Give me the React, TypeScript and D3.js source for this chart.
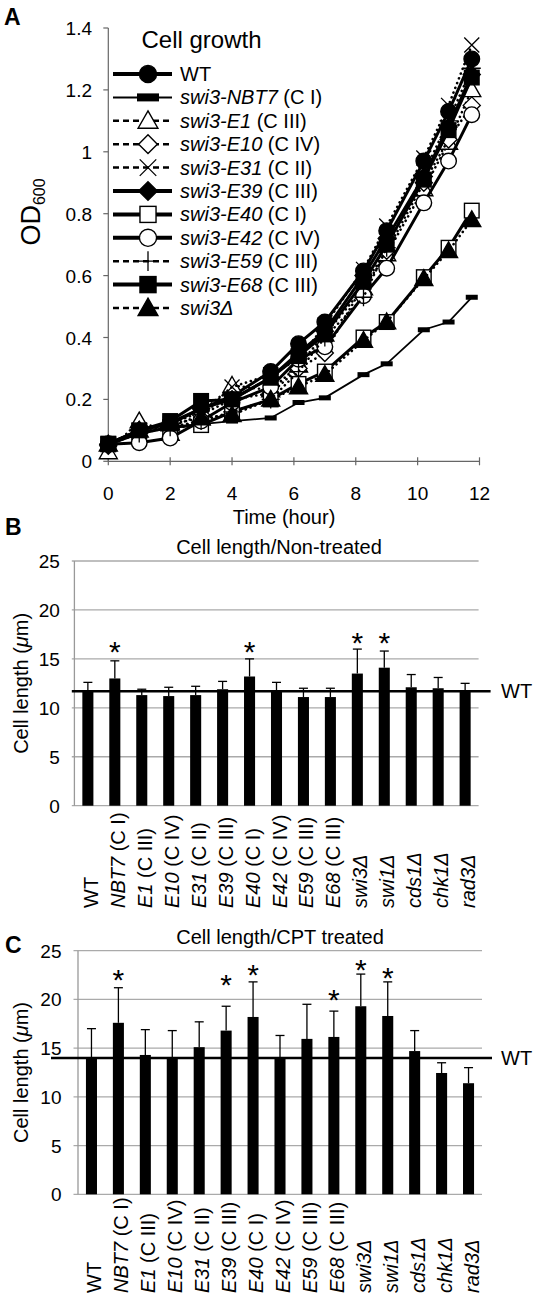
import React from 'react';
import * as d3 from 'd3';

const FONT = "'Liberation Sans', Arial, Helvetica, sans-serif";

// ---------- Panel A data ----------
const hours = [0, 1, 2, 3, 4, 5.25, 6.15, 7, 8.25, 9, 10.2, 11, 11.75];
const strainNames = ['WT', 'swi3-NBT7', 'swi3-E1', 'swi3-E10', 'swi3-E31', 'swi3-E39', 'swi3-E40', 'swi3-E42', 'swi3-E59', 'swi3-E68', 'swi3Δ'];
const strainClasses = ['', '(C I)', '(C III)', '(C IV)', '(C II)', '(C III)', '(C I)', '(C IV)', '(C III)', '(C III)', ''];
const odWT = [0.057, 0.10, 0.125, 0.17, 0.21, 0.29, 0.38, 0.45, 0.615, 0.745, 0.97, 1.13, 1.30];
const odNBT7 = [0.057, 0.09, 0.11, 0.12, 0.13, 0.14, 0.19, 0.205, 0.28, 0.315, 0.425, 0.45, 0.53];
const odE1 = [0.03, 0.13, 0.09, 0.14, 0.245, 0.23, 0.31, 0.41, 0.56, 0.67, 0.88, 1.03, 1.20];
const odE10 = [0.05, 0.10, 0.11, 0.15, 0.20, 0.22, 0.30, 0.35, 0.57, 0.68, 0.90, 1.04, 1.15];
const odE31 = [0.055, 0.10, 0.12, 0.16, 0.24, 0.28, 0.33, 0.44, 0.62, 0.76, 0.98, 1.15, 1.345];
const odE39 = [0.055, 0.10, 0.12, 0.17, 0.20, 0.27, 0.35, 0.42, 0.60, 0.72, 0.92, 1.08, 1.25];
const odE40 = [0.055, 0.09, 0.11, 0.117, 0.16, 0.20, 0.25, 0.29, 0.40, 0.45, 0.595, 0.69, 0.81];
const odE42 = [0.055, 0.06, 0.075, 0.13, 0.19, 0.24, 0.33, 0.37, 0.535, 0.624, 0.835, 0.97, 1.12];
const odE59 = [0.055, 0.09, 0.11, 0.13, 0.16, 0.20, 0.29, 0.40, 0.53, 0.69, 0.93, 1.10, 1.27];
const odE68 = [0.057, 0.10, 0.13, 0.195, 0.20, 0.27, 0.34, 0.41, 0.58, 0.70, 0.91, 1.07, 1.24];
const odSwi3 = [0.055, 0.10, 0.12, 0.14, 0.15, 0.20, 0.24, 0.28, 0.39, 0.45, 0.59, 0.68, 0.78];
const odSeries = [odWT, odNBT7, odE1, odE10, odE31, odE39, odE40, odE42, odE59, odE68, odSwi3];
const xTicksA = [0, 2, 4, 6, 8, 10, 12];
const yTicksA = [0, 0.2, 0.4, 0.6, 0.8, 1, 1.2, 1.4];

// ---------- Panels B / C data ----------
const barCats = ['WT', 'NBT7', 'E1', 'E10', 'E31', 'E39', 'E40', 'E42', 'E59', 'E68', 'swi3Δ', 'swi1Δ', 'cds1Δ', 'chk1Δ', 'rad3Δ'];
const barClasses = ['', '(C I)', '(C III)', '(C IV)', '(C II)', '(C III)', '(C I)', '(C IV)', '(C III)', '(C III)', '', '', '', '', ''];
const lenNonTreated = [11.7, 13.0, 11.3, 11.2, 11.3, 11.9, 13.2, 11.8, 11.1, 11.1, 13.5, 14.1, 12.1, 12.0, 11.7];
const sdNonTreated = [0.9, 1.8, 0.6, 0.9, 0.9, 0.8, 1.8, 0.8, 0.9, 0.9, 2.5, 1.7, 1.3, 1.1, 0.8];
const starNonTreated = [null, 16.4, null, null, null, null, 16.4, null, null, null, 17.3, 17.3, null, null, null];
const lenCPT = [14.0, 17.6, 14.3, 14.0, 15.1, 16.8, 18.2, 14.0, 15.95, 16.15, 19.3, 18.3, 14.7, 12.45, 11.4];
const sdCPT = [3.0, 3.6, 2.6, 2.8, 2.6, 2.5, 3.6, 2.3, 3.55, 2.65, 3.3, 3.5, 2.1, 1.05, 1.6];
const starCPT = [null, 22.7, null, null, null, 22.2, 23.2, null, null, 20.7, 23.7, 22.9, null, null, null];
const yTicksBar = [0, 5, 10, 15, 20, 25];

// ---------- styles ----------
type Mk = 'circle' | 'rect' | 'triangle' | 'diamond' | 'x' | 'square' | 'plus';
interface Sty { mk: Mk; fill: string; line: 'thick' | 'thin' | 'dash'; }
const styles: Sty[] = [
  { mk: 'circle', fill: '#000', line: 'thick' },
  { mk: 'rect', fill: '#000', line: 'thin' },
  { mk: 'triangle', fill: '#fff', line: 'dash' },
  { mk: 'diamond', fill: '#fff', line: 'dash' },
  { mk: 'x', fill: 'none', line: 'dash' },
  { mk: 'diamond', fill: '#000', line: 'thick' },
  { mk: 'square', fill: '#fff', line: 'thick' },
  { mk: 'circle', fill: '#fff', line: 'thick' },
  { mk: 'plus', fill: 'none', line: 'dash' },
  { mk: 'square', fill: '#000', line: 'thick' },
  { mk: 'triangle', fill: '#000', line: 'dash' },
];

function Marker({ mk, fill, cx, cy, big }: { mk: Mk; fill: string; cx: number; cy: number; big?: boolean }) {
  const s = big ? 1.1 : 1;
  const sw = 1.4;
  switch (mk) {
    case 'circle':
      return <circle cx={cx} cy={cy} r={7.8 * s} fill={fill} stroke="#000" strokeWidth={sw} />;
    case 'rect': {
      const w = big ? 22 : 12, h = big ? 8 : 5;
      return <rect x={cx - w / 2} y={cy - h / 2} width={w} height={h} fill="#000" />;
    }
    case 'triangle': {
      const r = 9 * s;
      return <polygon points={`${cx},${cy - r} ${cx + r},${cy + r * 0.75} ${cx - r},${cy + r * 0.75}`} fill={fill} stroke="#000" strokeWidth={sw} />;
    }
    case 'diamond': {
      const r = 8.5 * s;
      return <polygon points={`${cx},${cy - r} ${cx + r},${cy} ${cx},${cy + r} ${cx - r},${cy}`} fill={fill} stroke="#000" strokeWidth={sw} />;
    }
    case 'square': {
      const r = 7.3 * s;
      return <rect x={cx - r} y={cy - r} width={2 * r} height={2 * r} fill={fill} stroke="#000" strokeWidth={sw} />;
    }
    case 'x': {
      const r = 7.5 * s;
      return <path d={`M${cx - r},${cy - r}L${cx + r},${cy + r}M${cx - r},${cy + r}L${cx + r},${cy - r}`} stroke="#000" strokeWidth={1.3} fill="none" />;
    }
    case 'plus': {
      const r = 9 * s;
      return <path d={`M${cx},${cy - r}L${cx},${cy + r}M${cx - r},${cy}L${cx + r},${cy}`} stroke="#000" strokeWidth={1.3} fill="none" />;
    }
  }
  return null;
}

function lineProps(line: Sty['line'], legend: boolean) {
  if (line === 'thick') return { strokeWidth: legend ? 4 : 3, strokeDasharray: undefined as string | undefined, strokeLinecap: 'butt' as const };
  if (line === 'thin') return { strokeWidth: legend ? 2 : 1.8, strokeDasharray: undefined, strokeLinecap: 'butt' as const };
  return legend
    ? { strokeWidth: 2.5, strokeDasharray: '6,4', strokeLinecap: 'butt' as const }
    : { strokeWidth: 2.6, strokeDasharray: '0.1,5', strokeLinecap: 'round' as const };
}

function PanelA() {
  const x = d3.scaleLinear().domain([0, 12]).range([108.3, 479.5]);
  const y = d3.scaleLinear().domain([0, 1.4]).range([461.3, 28]);
  const line = d3.line<number>().x((_, i) => x(hours[i])).y((d) => y(d));
  const axisColor = '#666';
  const legendY0 = 74, legendStep = 23.4;
  return (
    <g>
      <text x={4} y={25} fontSize={23} fontWeight="bold">A</text>
      {/* axes */}
      <line x1={x(0)} x2={x(0)} y1={y(0)} y2={y(1.4)} stroke={axisColor} strokeWidth={1.2} />
      <line x1={x(0)} x2={x(12)} y1={y(0)} y2={y(0)} stroke={axisColor} strokeWidth={1.2} />
      {yTicksA.map((t) => (
        <g key={t}>
          <line x1={x(0) - 5} x2={x(0)} y1={y(t)} y2={y(t)} stroke={axisColor} strokeWidth={1.2} />
          <text x={92} y={y(t) + 7} fontSize={19} textAnchor="end">{d3.format('~g')(t)}</text>
        </g>
      ))}
      {xTicksA.map((t) => (
        <g key={t}>
          <line x1={x(t)} x2={x(t)} y1={y(0) - 4} y2={y(0) + 4} stroke={axisColor} strokeWidth={1.2} />
          <text x={x(t)} y={499.5} fontSize={19} textAnchor="middle">{t}</text>
        </g>
      ))}
      <text x={284} y={523.5} fontSize={20} textAnchor="middle">Time (hour)</text>
      <text transform="translate(40,212) rotate(-90)" fontSize={27} textAnchor="middle">
        OD<tspan fontSize={16} dy={5}>600</tspan>
      </text>
      {/* legend */}
      <text x={141.5} y={48} fontSize={24}>Cell growth</text>
      {strainNames.map((name, i) => {
        const st = styles[i];
        const ly = legendY0 + i * legendStep;
        const lp = lineProps(st.line, true);
        return (
          <g key={name}>
            <line x1={113} x2={172} y1={ly} y2={ly} stroke="#000" {...lp} />
            <Marker mk={st.mk} fill={st.fill} cx={148} cy={ly} big />
            <text x={180} y={ly + 7} fontSize={20}>
              {name === 'WT' ? <tspan>WT</tspan> : <tspan fontStyle="italic">{name}</tspan>}
              {strainClasses[i] ? <tspan> {strainClasses[i]}</tspan> : null}
            </text>
          </g>
        );
      })}
      {/* data */}
      {odSeries.map((vals, i) => {
        const st = styles[i];
        const lp = lineProps(st.line, false);
        return (
          <g key={strainNames[i]}>
            <path d={line(vals) || ''} fill="none" stroke="#000" {...lp} />
            {vals.map((v, j) => (
              <Marker key={j} mk={st.mk} fill={st.fill} cx={x(hours[j])} cy={y(v)} />
            ))}
          </g>
        );
      })}
    </g>
  );
}

interface BarProps {
  letter: string; letterY: number; title: string; titleY: number; titleX: number;
  values: number[]; sds: number[]; stars: (number | null)[];
  y0: number; y25: number; axisX: number; gridL: number; gridR: number;
  wtL: number; wtR: number; labelBottom: number; ylabelX: number;
}

function BarPanel(p: BarProps) {
  const y = d3.scaleLinear().domain([0, 25]).range([p.y0, p.y25]);
  const x = d3.scaleBand<string>().domain(barCats).range([p.axisX, p.gridR]).paddingInner(0).paddingOuter(0);
  const bw = x.bandwidth() * 0.41;
  const cx = (c: string) => (x(c) as number) + x.bandwidth() / 2;
  const wtVal = p.values[0];
  const yMid = (p.y0 + p.y25) / 2;
  return (
    <g>
      <text x={5} y={p.letterY} fontSize={23} fontWeight="bold">{p.letter}</text>
      <text x={p.titleX} y={p.titleY} fontSize={20} textAnchor="middle">{p.title}</text>
      {yTicksBar.map((t) => (
        <g key={t}>
          <line x1={p.gridL} x2={p.gridR} y1={y(t)} y2={y(t)} stroke="#aaa" strokeWidth={1.3} />
          <text x={p.gridL - 12} y={y(t) + 7} fontSize={19} textAnchor="end">{t}</text>
        </g>
      ))}
      <line x1={p.axisX} x2={p.axisX} y1={y(0)} y2={y(25)} stroke="#999" strokeWidth={1.3} />
      <text transform={`translate(${p.ylabelX},${yMid}) rotate(-90)`} fontSize={20} textAnchor="middle">
        Cell length (<tspan fontStyle="italic">μ</tspan>m)
      </text>
      {barCats.map((c, i) => {
        const v = p.values[i];
        const top = v + p.sds[i];
        return (
          <g key={c}>
            <rect x={cx(c) - bw / 2} y={y(v)} width={bw} height={y(0) - y(v)} fill="#000" />
            <line x1={cx(c)} x2={cx(c)} y1={y(v)} y2={y(top)} stroke="#000" strokeWidth={1.3} />
            <line x1={cx(c) - 4.5} x2={cx(c) + 4.5} y1={y(top)} y2={y(top)} stroke="#000" strokeWidth={1.3} />
            {p.stars[i] != null ? (
              <text x={cx(c)} y={y(p.stars[i] as number) + 17} fontSize={30} textAnchor="middle">*</text>
            ) : null}
            <text transform={`translate(${cx(c) + 10},${p.labelBottom}) rotate(-90)`} fontSize={20} textAnchor="start">
              {c === 'WT' ? <tspan>WT</tspan> : <tspan fontStyle="italic">{c}</tspan>}
              {barClasses[i] ? <tspan> {barClasses[i]}</tspan> : null}
            </text>
          </g>
        );
      })}
      <line x1={p.wtL} x2={p.wtR} y1={y(wtVal)} y2={y(wtVal)} stroke="#000" strokeWidth={2.5} />
      <text x={501} y={y(wtVal) + 7} fontSize={20}>WT</text>
    </g>
  );
}

export default function App() {
  return (
    <svg width={536} height={1299} viewBox="0 0 536 1299"
      style={{ position: 'absolute', left: 0, top: 0, display: 'block', background: '#fff' }}
      fontFamily={FONT}>
      <rect x={0} y={0} width={536} height={1299} fill="#fff" />
      <PanelA />
      <BarPanel letter="B" letterY={535} title="Cell length/Non-treated" titleX={279} titleY={554}
        values={lenNonTreated} sds={sdNonTreated} stars={starNonTreated}
        y0={805.7} y25={561} axisX={74.4} gridL={71.8} gridR={478.6}
        wtL={71.8} wtR={490.6} labelBottom={908} ylabelX={28} />
      <BarPanel letter="C" letterY={953} title="Cell length/CPT treated" titleX={280} titleY={944}
        values={lenCPT} sds={sdCPT} stars={starCPT}
        y0={1194.3} y25={950.7} axisX={78} gridL={73.5} gridR={482}
        wtL={51} wtR={492} labelBottom={1293} ylabelX={28} />
    </svg>
  );
}
